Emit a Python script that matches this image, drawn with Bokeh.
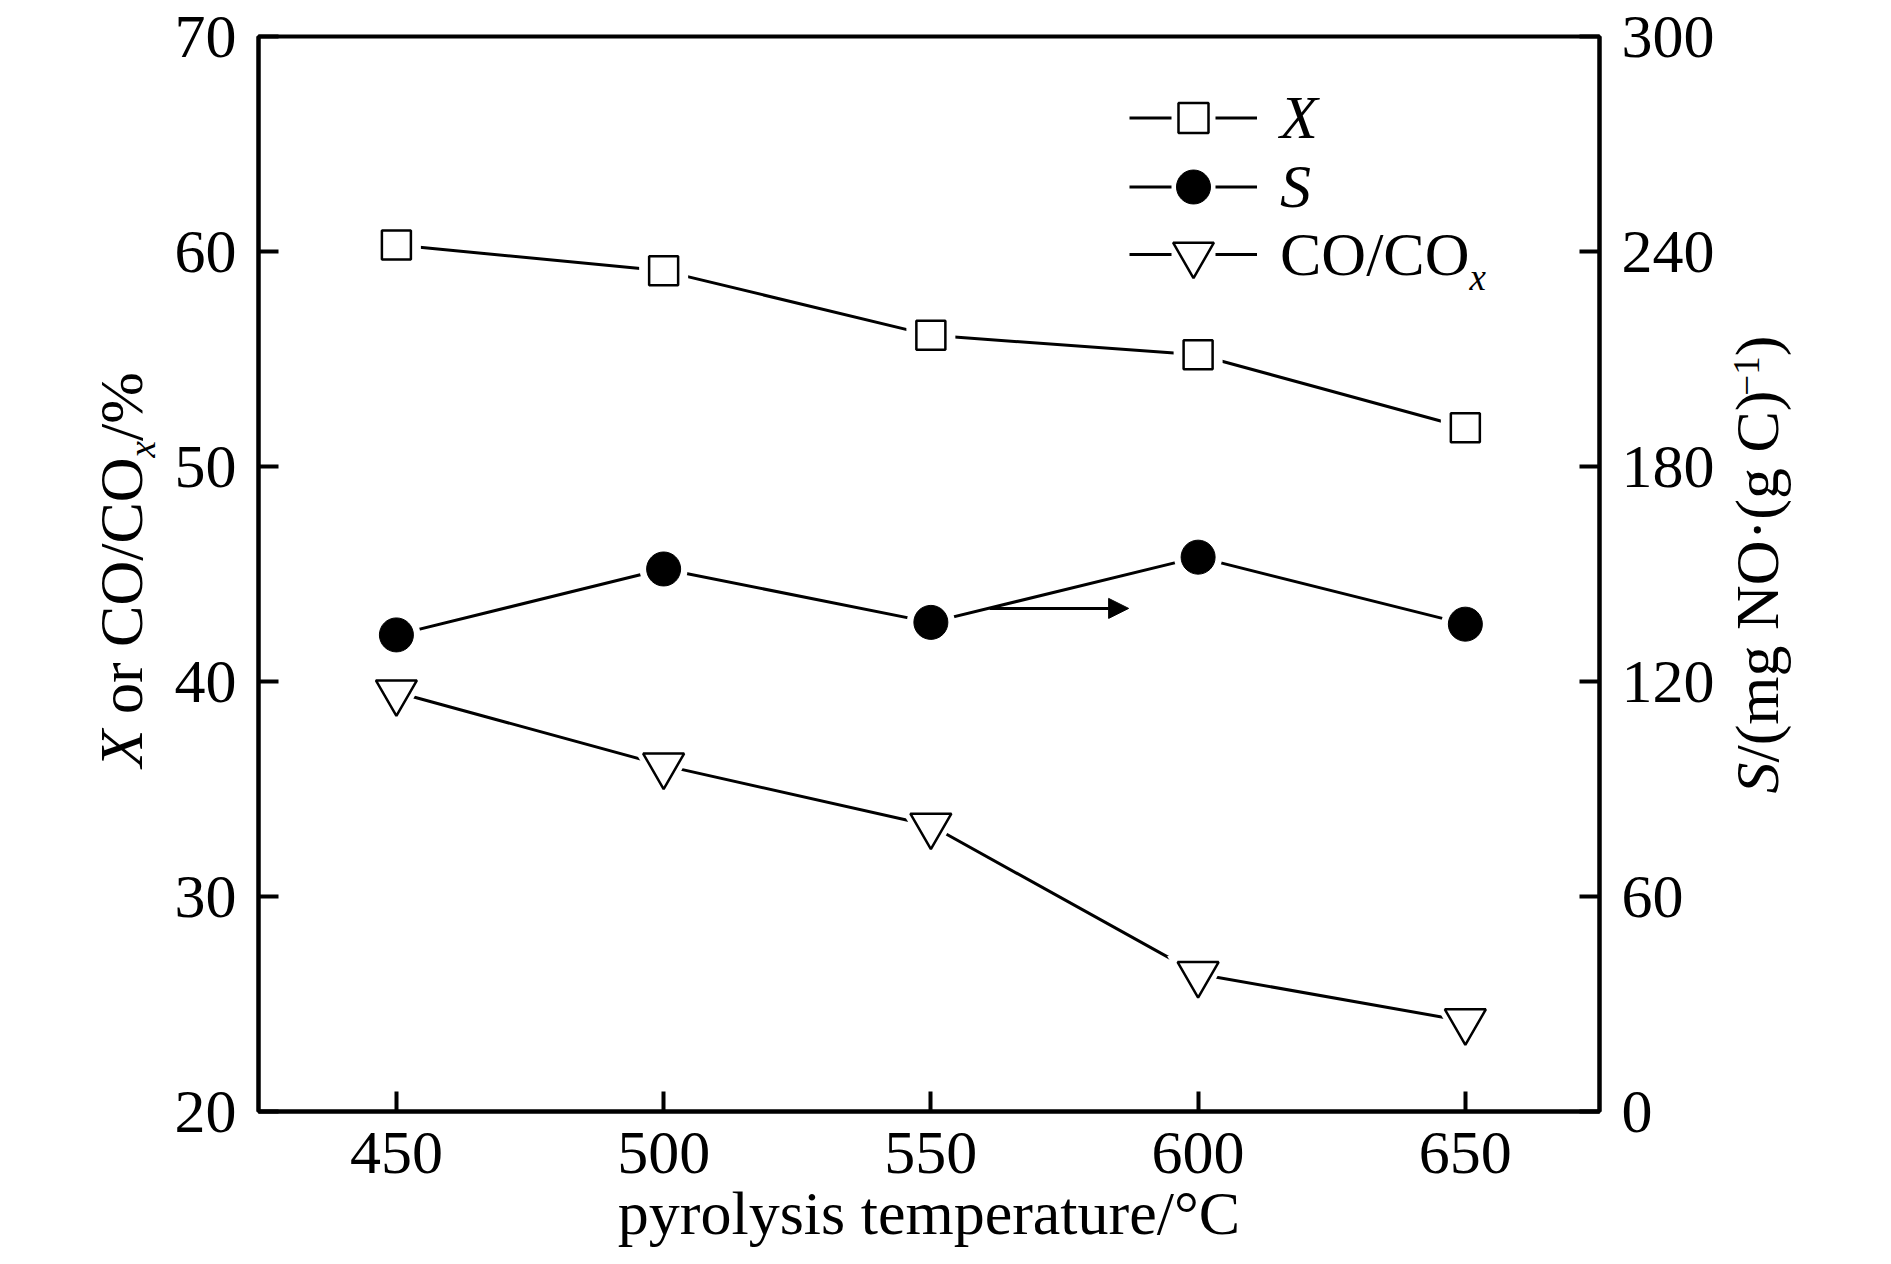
import math
from bokeh.plotting import figure
from bokeh.layouts import row
from bokeh.models import (Range1d, LinearAxis, FixedTicker, Legend, LegendItem,
                          Label, Arrow, NormalHead)
from bokeh.embed import file_html
from bokeh.resources import INLINE

# ---------------- data ----------------
temperature = [450, 500, 550, 600, 650]
X_conv = [60.3, 59.1, 56.1, 55.2, 51.8]          # X / %  (left axis)
S_spec = [133.0, 151.4, 136.5, 154.7, 136.0]     # S / mg NO (g C)^-1 (right axis)
CO_ratio = [39.5, 36.1, 33.3, 26.4, 24.2]        # CO/COx / % (left axis)

x_ticks = [450, 500, 550, 600, 650]
left_ticks = [20, 30, 40, 50, 60, 70]
right_ticks = [0, 60, 120, 180, 240, 300]

arrow_x = [561.0, 587.0]
arrow_y = 43.4

x_label = "pyrolysis temperature/°C"

# ---------------- style ----------------
FONT = "Liberation Serif"
FS = 62
SUB = 37
H = 1262
FRAME_TOP = 36
FRAME_H = 1075
FRAME_BOTTOM = FRAME_TOP + FRAME_H      # page y of the frame's bottom edge (1111)
FRAME_LEFT = 258
FRAME_RIGHT = 1599
LEFT_W = 170
RIGHT_BORDER = 116
RIGHT_X0 = FRAME_RIGHT + RIGHT_BORDER    # page x where the right title panel starts
RIGHT_W = 1890 - RIGHT_X0

p = figure(frame_width=FRAME_RIGHT - FRAME_LEFT, frame_height=FRAME_H,
           x_range=Range1d(424.2, 675.1), y_range=Range1d(20, 70),
           output_backend="svg", toolbar_location=None,
           min_border_left=FRAME_LEFT - LEFT_W, min_border_right=RIGHT_BORDER,
           min_border_top=FRAME_TOP, min_border_bottom=140,
           background_fill_color="white", border_fill_color="white")
p.grid.visible = False
p.outline_line_color = "black"
p.outline_line_width = 4
p.extra_y_ranges = {"right": Range1d(0, 300), "hidden": Range1d(1000, 1001)}
p.add_layout(LinearAxis(y_range_name="right"), "right")

p.xaxis.ticker = FixedTicker(ticks=x_ticks)
p.yaxis[0].ticker = FixedTicker(ticks=left_ticks)
p.yaxis[1].ticker = FixedTicker(ticks=right_ticks)

for ax in p.xaxis + p.yaxis:
    ax.axis_line_width = 4
    ax.axis_line_color = "black"
    ax.major_tick_in = 20
    ax.major_tick_out = 0
    ax.major_tick_line_width = 4
    ax.major_tick_line_color = "black"
    ax.minor_tick_line_color = None
    ax.major_label_text_font = FONT
    ax.major_label_text_font_size = f"{FS}px"
    ax.major_label_text_color = "black"
    ax.major_label_standoff = 22

p.xaxis.major_label_standoff = 21
p.xaxis.axis_label = x_label
p.xaxis.axis_label_text_font = FONT
p.xaxis.axis_label_text_font_size = f"{FS}px"
p.xaxis.axis_label_text_font_style = "normal"
p.xaxis.axis_label_text_color = "black"
p.xaxis.axis_label_standoff = 3

# ---------------- series ----------------
LW = 3
p.line(temperature, X_conv, line_color="black", line_width=LW)
p.line(temperature, S_spec, line_color="black", line_width=LW, y_range_name="right")
p.line(temperature, CO_ratio, line_color="black", line_width=LW)

# white halos leave a gap between line and marker
p.scatter(temperature, X_conv, marker="square", size=49, fill_color="white", line_color=None)
p.scatter(temperature, S_spec, marker="circle", size=48, fill_color="white", line_color=None,
          y_range_name="right")
p.scatter(temperature, CO_ratio, marker="inverted_triangle", size=62, fill_color="white",
          line_color=None)

mx = p.scatter(temperature, X_conv, marker="square", size=29, fill_color="white",
               line_color="black", line_width=2.5)
ms = p.scatter(temperature, S_spec, marker="circle", size=34, fill_color="black",
               line_color="black", line_width=1, y_range_name="right")
mc = p.scatter(temperature, CO_ratio, marker="inverted_triangle", size=41, fill_color="white",
               line_color="black", line_width=2.5)

# arrow pointing to the right axis for S
p.add_layout(Arrow(end=NormalHead(size=20, fill_color="black", line_color="black"),
                   x_start=arrow_x[0], y_start=arrow_y, x_end=arrow_x[1], y_end=arrow_y,
                   line_color="black", line_width=3))

# ---------------- legend ----------------
# dashed line used only for the legend key (drawn outside the visible y range)
dash_line = p.line(temperature, X_conv, line_color="black", line_width=LW,
                   line_dash="42 44", y_range_name="hidden")


def make_legend(label, renderer, gh, loc_y, style):
    lg = Legend(items=[LegendItem(label=label, renderers=[dash_line, renderer])],
                location=(871, loc_y), orientation="vertical",
                glyph_width=128, glyph_height=gh, label_standoff=23,
                label_text_font=FONT, label_text_font_size=f"{FS}px",
                label_text_font_style=style, label_text_color="black",
                padding=0, margin=0, spacing=0,
                border_line_color=None, background_fill_alpha=0)
    p.add_layout(lg, "center")


make_legend("X", mx, 75, 956, "italic")
make_legend("S", ms, 85, 882, "italic")
make_legend("CO/CO", mc, 102, 806, "normal")

# ---------------- rich-text labels ----------------
W_ROMAN = {' ': 250, 'o': 500, 'r': 333, 'C': 667, 'O': 722, '/': 278, '%': 833,
           '(': 333, ')': 333, 'm': 778, 'g': 500, 'N': 722, '·': 250, '−': 564, '1': 500}
W_ITAL = {'X': 611, 'S': 500, 'x': 444}
BASE_FIX = 0.36   # empirical shift of Bokeh's alphabetic baseline, in em


def width(s, italic, size):
    tab = W_ITAL if italic else W_ROMAN
    return sum(tab.get(c, 500) for c in s) * size / 1000.0


def add_text(fig, x, y, txt, italic=False, size=FS, angle=0.0):
    fig.add_layout(Label(x=x, y=y, x_units="screen", y_units="screen", text=txt,
                         angle=angle, text_align="left", text_baseline="alphabetic",
                         text_font=FONT, text_font_size=f"{size}px",
                         text_font_style="italic" if italic else "normal",
                         text_color="black"))


def rotated_rich(fig, x0, y0, pieces):
    """Text reading bottom-to-top; (x0, y0) = start of the baseline."""
    y = y0
    for txt, italic, size, shift in pieces:
        lead = len(txt) - len(txt.lstrip(" "))
        y += width(" " * lead, italic, size)
        body = txt.lstrip(" ")
        add_text(fig, x0 + shift - BASE_FIX * size, y, body, italic, size, math.pi / 2)
        y += width(body, italic, size)


def side_fig(w):
    f = figure(width=w, height=H, x_range=(0, 1), y_range=(0, 1),
               output_backend="svg", toolbar_location=None,
               x_axis_location=None, y_axis_location=None,
               min_border_left=0, min_border_right=0,
               min_border_top=FRAME_TOP, min_border_bottom=H - FRAME_BOTTOM,
               outline_line_color=None, background_fill_color="white",
               border_fill_color="white")
    f.grid.visible = False
    return f


left_fig = side_fig(LEFT_W)
right_fig = side_fig(RIGHT_W)

# left axis title: X or CO/COx/%   (baseline at page x=143, starts at page y=767)
rotated_rich(left_fig, 143, FRAME_BOTTOM - 767,
             [("X", True, FS, 0), (" or CO/CO", False, FS, 0),
              ("x", True, SUB, 12), ("/%", False, FS, 0)])
# right axis title: S/(mg NO·(g C)^-1)   (baseline at page x=1777, starts at page y=793)
rotated_rich(right_fig, 1777 - RIGHT_X0, FRAME_BOTTOM - 793,
             [("S", True, FS, 0), ("/(mg NO·(g C)", False, FS, 0),
              ("−1", False, SUB, -20), (")", False, FS, 0)])
# legend subscript
add_text(p, 1211, 834, "x", True, SUB)

layout = row(left_fig, p, right_fig, spacing=0)
open("out.html", "w").write(file_html(layout, INLINE, title="chart"))
